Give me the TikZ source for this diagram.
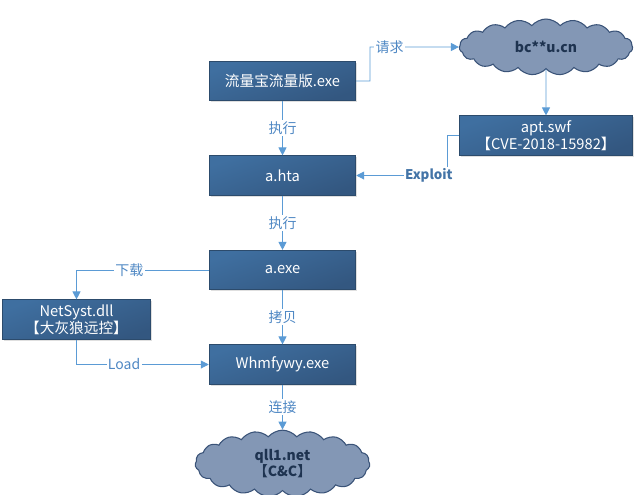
\documentclass[tikz,border=0pt]{standalone}
\usepackage{fontspec}
\setmainfont{Noto Sans CJK SC}
\usetikzlibrary{shapes.symbols,arrows.meta,shadows}

\definecolor{boxtop}{HTML}{3F6FA0}
\definecolor{boxbot}{HTML}{335780}
\definecolor{boxline}{HTML}{2C4B6C}
\definecolor{cloudfill}{HTML}{8397B5}
\definecolor{cloudline}{HTML}{3A5378}
\definecolor{linkblue}{HTML}{5B9BD5}
\definecolor{labelblue}{HTML}{4F88C4}
\definecolor{clouddark}{HTML}{1E3350}

\begin{document}
\begin{tikzpicture}[x=0.75pt,y=-0.75pt]
            \tikzstyle{filebox}=[draw=boxline, line width=0.6pt, top color=boxtop, bottom color=boxbot,
                shading angle=20, text=white, align=center, font=\fontsize{11}{13}\selectfont,
                minimum width=110pt, minimum height=29.5pt, inner sep=1pt,
                drop shadow={shadow xshift=1pt, shadow yshift=-1.2pt, opacity=0.25}];
            \tikzstyle{netcloud}=[cloud, cloud puffs=19, cloud puff arc=100, cloud ignores aspect,
                draw=cloudline, line width=0.8pt,
                fill=cloudfill, text=clouddark, align=center, inner sep=0pt,
                font=\bfseries\fontsize{10.5}{12.5}\selectfont];
            \tikzstyle{link}=[draw=linkblue, line width=0.7pt, -{Triangle[width=6pt,length=6pt]}];
            \tikzstyle{tag}=[fill=white, text=labelblue, inner sep=1pt, font=\fontsize{10.5}{12}\selectfont];
            \useasboundingbox (0,0) rectangle (643,494);

            % main chain
            \node[filebox] (llb) at (282.5,81) {流量宝流量版.exe};
            \node[filebox] (hta) at (282.5,175.5) {a.hta};
            \node[filebox] (aexe) at (282.5,270) {a.exe};
            \node[filebox] (whm) at (282.5,364.5) {Whmfywy.exe};

            % side nodes
            \node[filebox, minimum width=111pt] (dll) at (76.5,319.5) {NetSyst.dll\\【大灰狼远控】};
            \node[filebox, minimum width=130pt] (swf) at (546,135.5) {apt.swf\\【CVE-2018-15982】};
            \node[netcloud, minimum width=130pt, minimum height=42pt] (bcu) at (546,47) {bc**u.cn};
            \node[netcloud, minimum width=131pt, minimum height=50pt] (cc) at (282.5,463.5) {qll1.net\\【C\&C】};

            % connectors
            \draw[link] (llb.east) -| (370,47) -- node[tag, pos=0.22] {请求} (bcu.west);
            \draw[link] (bcu.south) -- (swf.north);
            \draw[link] (swf.west) -| (447,175.5) -- node[tag, pos=0.2, text=labelblue!85!black, font=\bfseries\fontsize{10}{11}\selectfont] {Exploit} (hta.east);
            \draw[link] (llb) -- node[tag] {执行} (hta);
            \draw[link] (hta) -- node[tag] {执行} (aexe);
            \draw[link] (aexe.west) -- node[tag, pos=0.6] {下载} (76.5,270) -- (dll.north);
            \draw[link] (aexe) -- node[tag] {拷贝} (whm);
            \draw[link] (dll.south) |- node[tag, pos=0.68] {Load} (whm.west);
            \draw[link] (whm) -- node[tag, pos=0.5] {连接} (cc.north);
        \end{tikzpicture}
\end{document}
